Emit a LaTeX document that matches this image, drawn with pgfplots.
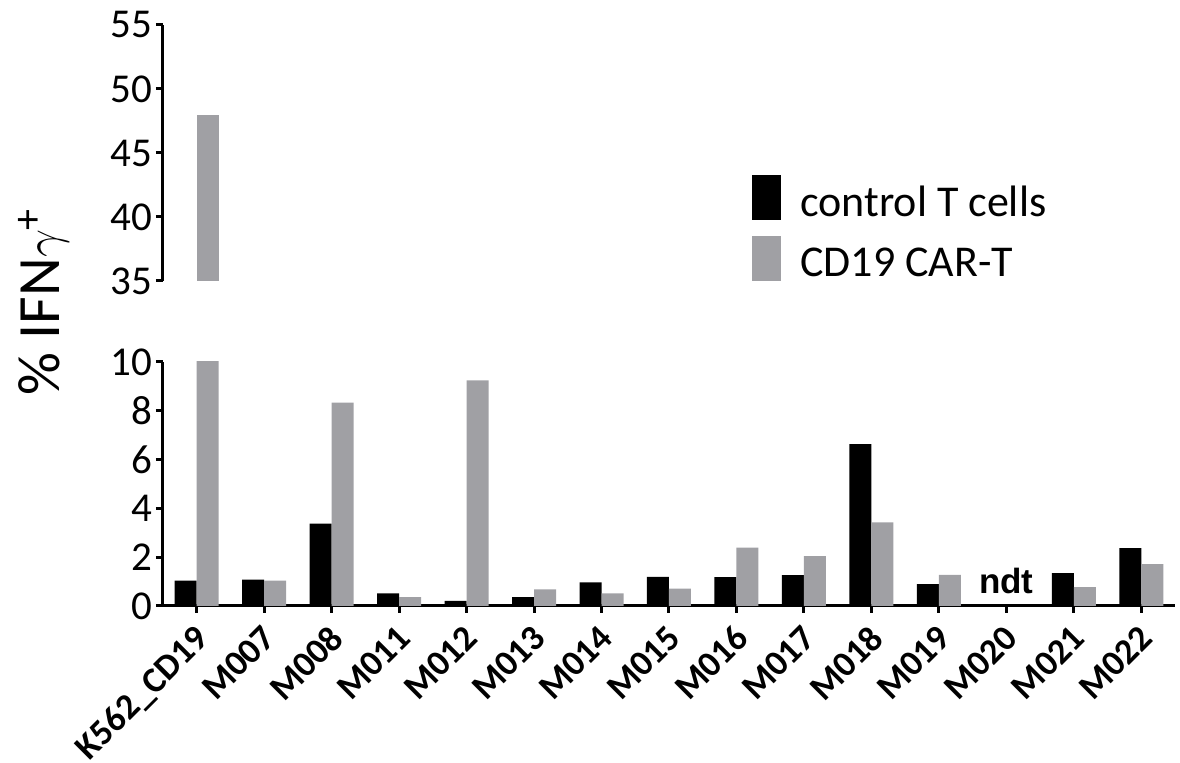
\documentclass[border=0pt]{standalone}
\usepackage{fontspec}
\setmainfont{Carlito}
\newfontfamily\ndtfont{Liberation Sans}
\usepackage{pgfplots}
\pgfplotsset{compat=1.18}
\definecolor{cgray}{RGB}{160,160,164}

\begin{document}
\begin{tikzpicture}
\useasboundingbox (-81.5pt,-78.5pt) rectangle (508.5pt,303pt);
\pgfplotsset{
  common/.style={
    scale only axis, width=506pt, xmin=-0.5, xmax=14.5,
    axis y line*=left,
    axis line style={line width=1.5pt},
    tick style={line width=1.5pt, black},
    major tick length=3.5pt, tick align=outside,
    ybar=0pt, bar width=11pt,
    /pgf/number format/assume math mode=true,
    ticklabel style={font=\fontsize{20.5}{24}\selectfont},
    yticklabel style={xshift=1.5pt},
  }
}
% lower axis
\begin{axis}[common, at={(0pt,0pt)}, anchor=south west,
  height=122pt, ymin=0, ymax=10, ytick={0,2,...,10},
  axis x line*=bottom,
  xtick={0,...,14},
  xticklabels={K562\_CD19,M007,M008,M011,M012,M013,M014,M015,M016,M017,M018,M019,M020,M021,M022},
  xticklabel style={xshift=-1.8pt, yshift=-0.3pt, rotate=45, anchor=north east, font=\bfseries\fontsize{18}{21}\selectfont},
]
\addplot[fill=black, draw=none] coordinates {
 (0,1.04) (1,1.08) (2,3.38) (3,0.52) (4,0.21) (5,0.36) (6,0.97) (7,1.19)
 (8,1.18) (9,1.26) (10,6.63) (11,0.90) (13,1.35) (14,2.37)};
\addplot[fill=cgray, draw=none] coordinates {
 (0,48) (1,1.04) (2,8.33) (3,0.36) (4,9.25) (5,0.68) (6,0.52) (7,0.71)
 (8,2.39) (9,2.04) (10,3.43) (11,1.27) (13,0.77) (14,1.72)};
\node[font=\ndtfont\bfseries\fontsize{17.5}{20}\selectfont, anchor=base] at (axis cs:12,0.53) {ndt};
\end{axis}
% upper axis
\begin{axis}[common, at={(0pt,162.5pt)}, anchor=south west,
  height=128pt, ymin=35, ymax=55, ytick={35,40,...,55},
  axis x line=none, xtick=\empty,
  legend cell align=left,
  legend style={at={(0.582,0.415)}, anchor=north west, draw=none, fill=none,
    font=\fontsize{22}{26}\selectfont, row sep=6pt, column sep=7.5pt, inner sep=0pt},
  legend image code/.code={\fill[#1, draw=none] (0pt,-8.5pt) rectangle (14.5pt,14pt);},
]
\addplot[fill=cgray, draw=none, bar shift=5.5pt, forget plot] coordinates {(0,48)};
\addlegendimage{fill=black}
\addlegendentry{control T cells}
\addlegendimage{fill=cgray}
\addlegendentry{CD19 CAR-T}
\end{axis}
\node[rotate=90, anchor=base, font=\fontsize{30}{34}\selectfont] at (-51.5pt,152pt) {\% IFN$\gamma$\textsuperscript{+}};
\end{tikzpicture}
\end{document}
